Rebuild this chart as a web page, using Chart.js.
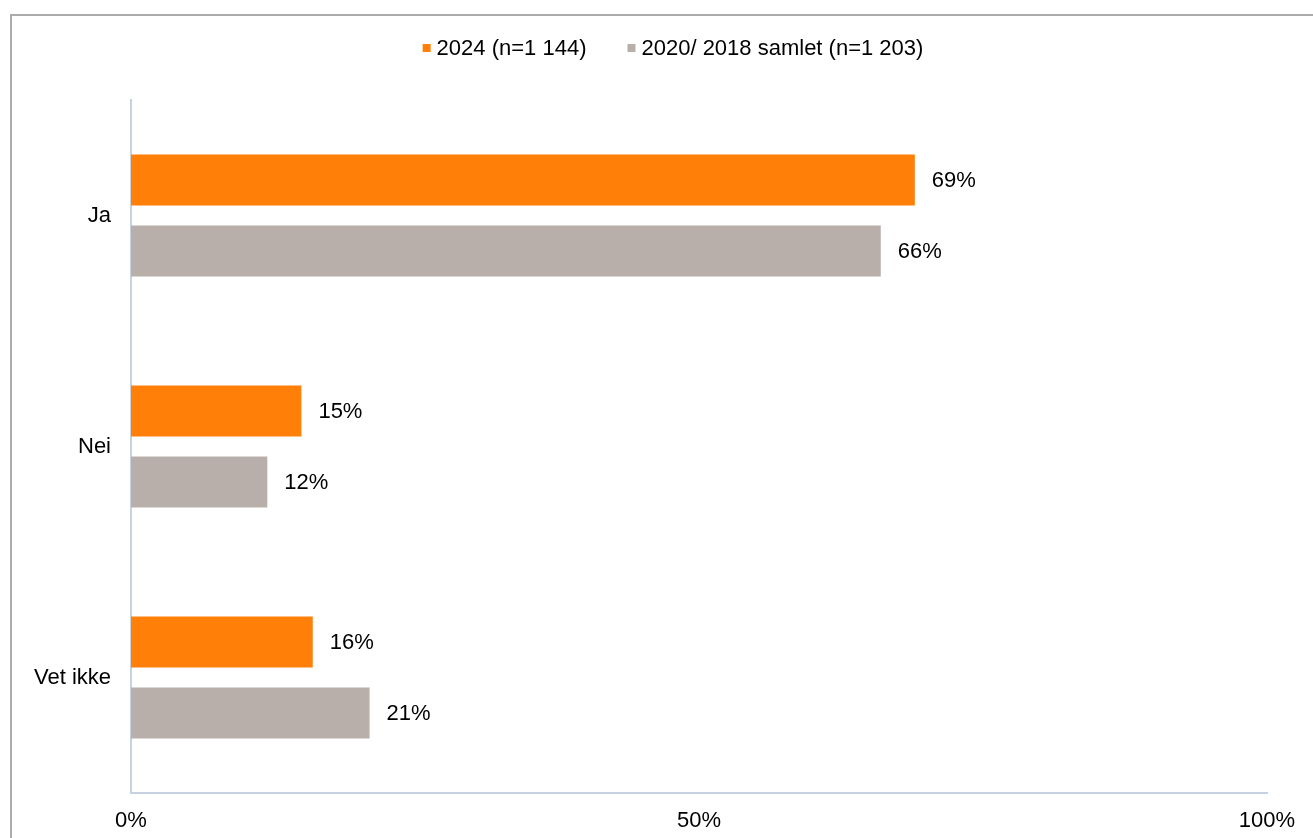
<!DOCTYPE html>
<html>
<head>
<meta charset="utf-8">
<script src="https://cdn.jsdelivr.net/npm/chart.js@4"></script>
<style>
  html, body { margin: 0; padding: 0; background: #fff; }
  canvas { display: block; }
</style>
</head>
<body>
<canvas id="chart" width="1313" height="838"></canvas>
<script>
// Svar per kategori, i prosent
const categories = ['Ja', 'Nei', 'Vet ikke'];
const values2024 = [69, 15, 16];
const values2020 = [66, 12, 21];
const seriesNames = ['2024 (n=1 144)', '2020/ 2018 samlet (n=1 203)'];
const xTicks = [0, 50, 100];

const FONT = "'Liberation Sans', Arial, sans-serif";
const FONT_SIZE = 22;

// Grey frame around the figure
const framePlugin = {
  id: 'frame',
  beforeDraw(chart) {
    const ctx = chart.ctx;
    ctx.save();
    ctx.strokeStyle = '#ababab';
    ctx.lineWidth = 2;
    ctx.beginPath();
    ctx.moveTo(11, chart.height);
    ctx.lineTo(11, 15);
    ctx.lineTo(chart.width, 15);
    ctx.stroke();
    ctx.restore();
  }
};

// Legend row above the plot: small square + series name
const legendRow = {
  id: 'legendRow',
  afterDraw(chart) {
    const ctx = chart.ctx;
    const box = 8, gap = 6, spacing = 41, cy = 48;
    ctx.save();
    ctx.font = FONT_SIZE + 'px ' + FONT;
    ctx.textBaseline = 'middle';
    const items = chart.data.datasets.map(ds => ({
      text: ds.label,
      color: ds.backgroundColor,
      w: ctx.measureText(ds.label).width
    }));
    const total = items.reduce((s, it) => s + box + gap + it.w, 0) + spacing * (items.length - 1);
    let x = 673 - total / 2;
    items.forEach(it => {
      ctx.fillStyle = it.color;
      ctx.fillRect(x, cy - box / 2, box, box);
      x += box + gap;
      ctx.fillStyle = '#000';
      ctx.fillText(it.text, x, cy + 1);
      x += it.w + spacing;
    });
    ctx.restore();
  }
};

// Percentage labels to the right of each bar
const valueLabels = {
  id: 'valueLabels',
  afterDatasetsDraw(chart) {
    const ctx = chart.ctx;
    ctx.save();
    ctx.font = FONT_SIZE + 'px ' + FONT;
    ctx.fillStyle = '#000';
    ctx.textBaseline = 'middle';
    ctx.textAlign = 'left';
    chart.data.datasets.forEach((ds, i) => {
      chart.getDatasetMeta(i).data.forEach((bar, j) => {
        ctx.fillText(ds.data[j] + '%', bar.x + 17, bar.y + 1);
      });
    });
    ctx.restore();
  }
};

new Chart(document.getElementById('chart'), {
  type: 'bar',
  data: {
    labels: categories,
    datasets: [
      { label: seriesNames[0], data: values2024, backgroundColor: '#ff7f09' },
      { label: seriesNames[1], data: values2020, backgroundColor: '#b8afaa' }
    ]
  },
  options: {
    indexAxis: 'y',
    responsive: false,
    animation: false,
    categoryPercentage: 0.615,
    barPercentage: 0.72,
    layout: { padding: { top: 100, right: 46, left: 0, bottom: 0 } },
    plugins: {
      legend: { display: false },
      tooltip: { enabled: false }
    },
    scales: {
      x: {
        min: 0,
        max: 100,
        afterBuildTicks(scale) {
          scale.ticks = xTicks.map(v => ({ value: v }));
        },
        afterFit(scale) { scale.height = 45; },
        grid: { display: false, drawTicks: false },
        border: { display: true, color: '#c6d1e2', width: 2 },
        ticks: {
          padding: 15,
          color: '#000',
          font: { family: FONT, size: FONT_SIZE },
          callback: v => v + '%'
        }
      },
      y: {
        afterFit(scale) { scale.width = 131; },
        grid: { display: false, drawTicks: false },
        border: { display: true, color: '#c6d1e2', width: 2 },
        ticks: {
          padding: 20,
          color: '#000',
          font: { family: FONT, size: FONT_SIZE }
        }
      }
    }
  },
  plugins: [framePlugin, legendRow, valueLabels]
});
</script>
</body>
</html>
